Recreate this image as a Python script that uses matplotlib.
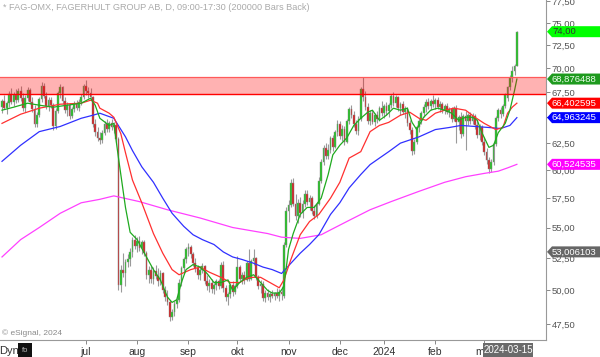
import matplotlib
matplotlib.use('Agg')
import matplotlib.pyplot as plt
from matplotlib.patches import Polygon, Rectangle
from matplotlib.ticker import FixedLocator, FuncFormatter, NullLocator
import numpy as np

plt.rcParams['font.family'] = ['Liberation Sans', 'DejaVu Sans']

# daily bars, FAG-OMX
opens = [66.0, 66.6, 65.9, 66.4, 67.3, 66.5, 67.2, 66.7, 67.6, 66.9,
         65.9, 66.9, 67.7, 66.5, 65.8, 64.3, 65.2, 66.8, 68.2, 67.1,
         66.1, 66.7, 66.2, 64.1, 65.6, 67.4, 68.0, 66.6, 65.7, 66.2,
         65.1, 65.8, 66.3, 65.9, 66.5, 67.0, 68.2, 67.6, 67.4, 67.0,
         64.3, 63.6, 63.0, 62.8, 63.5, 64.3, 63.9, 64.4, 64.0, 64.2,
         62.9, 50.4, 51.6, 51.3, 52.2, 52.4, 53.0, 54.0, 53.5, 53.9,
         53.3, 53.8, 52.9, 51.2, 51.6, 50.9, 51.5, 51.1, 50.7, 51.3,
         50.0, 49.5, 49.1, 48.0, 48.4, 49.0, 49.3, 50.6, 51.7, 52.4,
         53.2, 53.4, 52.8, 52.1, 51.7, 51.2, 51.6, 51.9, 50.7, 50.3,
         50.6, 50.1, 50.4, 50.7, 50.3, 52.0, 50.2, 49.5, 49.7, 50.4,
         49.9, 50.3, 51.8, 50.9, 51.2, 50.8, 52.1, 50.9, 52.3, 52.5,
         51.0, 50.3, 50.5, 49.4, 49.8, 49.5, 49.7, 49.6, 49.8, 49.6,
         49.9, 49.6, 53.6, 56.4, 56.9, 58.8, 57.0, 56.0, 57.1, 56.2,
         57.0, 57.9, 57.2, 57.5, 56.4, 56.0, 57.0, 59.0, 60.7, 62.0,
         61.3, 61.9, 63.0, 62.1, 63.6, 64.3, 63.2, 63.9, 62.6, 64.6,
         65.8, 65.2, 64.3, 63.7, 64.8, 67.8, 67.0, 66.0, 64.6, 65.4,
         64.5, 65.2, 64.8, 65.9, 65.4, 66.1, 65.6, 66.2, 67.1, 66.4,
         67.0, 65.9, 66.3, 65.5, 65.8, 64.4, 63.8, 61.8, 62.6, 64.0,
         64.6, 65.4, 66.0, 66.5, 66.1, 66.6, 66.3, 66.7, 66.0, 66.3,
         65.7, 66.1, 65.5, 65.8, 64.8, 65.9, 64.5, 65.0, 63.4, 65.1,
         64.6, 65.2, 64.6, 65.1, 64.2, 63.3, 64.0, 62.6, 61.7, 60.9,
         60.1, 60.7, 62.4, 64.9, 65.7, 65.3, 66.1, 66.9, 68.0, 69.0,
         69.7, 70.3]
highs = [66.8, 67.2, 66.6, 67.6, 67.9, 67.5, 67.8, 67.9, 68.2, 67.4,
         67.2, 68.0, 67.9, 67.0, 66.2, 65.5, 67.0, 68.6, 68.5, 67.5,
         67.0, 67.0, 66.4, 65.9, 67.6, 68.4, 68.2, 67.0, 66.5, 66.4,
         66.0, 66.6, 66.7, 66.8, 67.3, 68.4, 68.8, 68.1, 67.9, 67.1,
         64.8, 64.0, 63.6, 63.8, 64.6, 64.8, 64.6, 64.8, 64.5, 64.3,
         63.1, 52.0, 52.9, 52.4, 52.8, 53.3, 54.2, 54.4, 54.2, 54.3,
         54.0, 54.0, 53.1, 51.9, 51.9, 51.8, 52.0, 51.7, 51.6, 51.4,
         50.3, 50.0, 49.3, 48.6, 49.2, 49.6, 50.9, 51.9, 52.6, 53.4,
         53.7, 53.6, 53.0, 52.5, 52.0, 51.9, 52.1, 52.0, 51.2, 50.9,
         50.9, 50.6, 50.9, 50.9, 52.2, 52.3, 50.4, 49.9, 50.6, 50.7,
         50.5, 52.7, 52.0, 51.4, 51.5, 52.3, 53.2, 52.4, 53.2, 52.6,
         51.2, 50.8, 50.7, 50.0, 50.1, 49.9, 50.0, 49.9, 50.2, 50.1,
         50.3, 53.8, 56.7, 57.3, 59.2, 59.3, 57.9, 57.4, 57.6, 57.3,
         58.2, 58.2, 57.8, 57.7, 56.9, 57.2, 59.4, 61.0, 62.3, 62.5,
         62.4, 63.2, 63.3, 63.8, 64.7, 64.6, 64.2, 64.1, 64.8, 66.0,
         66.2, 65.6, 64.7, 65.1, 68.1, 69.1, 67.6, 66.4, 65.7, 65.7,
         65.4, 65.6, 66.1, 66.6, 66.3, 66.5, 66.4, 67.3, 67.5, 67.2,
         67.1, 66.5, 66.6, 66.1, 66.0, 64.7, 64.0, 62.9, 64.2, 64.9,
         65.6, 66.3, 66.8, 66.9, 66.8, 67.2, 66.9, 67.0, 66.6, 66.5,
         66.3, 66.4, 66.0, 66.0, 66.1, 66.2, 65.2, 65.5, 65.3, 65.6,
         65.4, 65.5, 65.4, 65.3, 64.7, 64.3, 64.2, 63.1, 62.0, 61.2,
         61.0, 62.6, 65.1, 65.9, 66.0, 66.3, 67.4, 68.2, 69.3, 70.2,
         70.5, 74.1]
lows = [65.4, 65.8, 65.3, 66.0, 66.3, 66.1, 66.4, 66.5, 66.6, 65.6,
        65.5, 66.6, 66.3, 65.5, 64.0, 64.0, 65.0, 66.5, 66.9, 65.8,
        65.6, 65.9, 63.8, 63.9, 65.4, 66.9, 66.3, 65.4, 65.1, 64.8,
        64.9, 65.5, 65.7, 65.6, 66.2, 66.8, 67.2, 66.9, 66.7, 64.0,
        63.2, 62.7, 62.4, 62.5, 63.3, 63.6, 63.6, 63.8, 63.5, 62.6,
        50.0, 49.9, 51.0, 50.3, 51.8, 51.9, 52.6, 53.2, 53.0, 53.1,
        52.8, 52.7, 50.9, 50.6, 50.6, 50.5, 50.9, 50.3, 50.4, 49.8,
        49.2, 48.9, 47.7, 47.8, 48.1, 48.7, 49.1, 50.3, 51.4, 52.1,
        52.7, 52.5, 51.9, 51.4, 50.9, 50.8, 51.3, 50.5, 50.0, 49.9,
        49.8, 49.7, 50.0, 50.1, 50.2, 49.9, 49.2, 48.9, 49.4, 49.6,
        49.7, 50.2, 50.7, 50.5, 50.5, 50.7, 50.7, 50.8, 52.0, 50.8,
        50.1, 49.8, 49.2, 49.1, 49.3, 49.1, 49.4, 49.3, 49.4, 49.2,
        49.3, 49.4, 53.4, 55.5, 56.7, 56.8, 55.6, 55.4, 55.9, 55.8,
        56.7, 56.9, 56.5, 56.1, 55.7, 55.8, 56.9, 58.8, 60.5, 61.0,
        61.0, 61.6, 61.8, 62.0, 63.2, 62.9, 62.7, 62.3, 62.5, 64.3,
        64.9, 64.0, 63.4, 63.3, 64.6, 66.6, 65.7, 64.3, 64.2, 64.3,
        64.1, 64.4, 64.6, 65.1, 64.9, 65.2, 65.0, 65.9, 66.1, 66.0,
        65.6, 65.2, 65.3, 64.9, 64.1, 63.4, 61.4, 61.5, 62.4, 63.6,
        64.3, 65.0, 65.5, 65.8, 65.7, 66.0, 65.8, 65.8, 65.5, 65.4,
        65.3, 65.3, 65.0, 64.5, 64.6, 62.5, 63.8, 63.0, 63.2, 61.9,
        64.2, 64.3, 64.3, 63.9, 63.0, 62.8, 62.3, 61.4, 60.6, 59.7,
        59.8, 60.5, 62.2, 64.6, 64.9, 65.1, 65.9, 66.6, 67.7, 68.6,
        69.3, 70.2]
closes = [66.6, 65.9, 66.4, 67.3, 66.5, 67.2, 66.7, 67.6, 66.9, 65.9,
          66.9, 67.7, 66.5, 65.8, 64.3, 65.2, 66.8, 68.2, 67.1, 66.1,
          66.7, 66.2, 64.1, 65.6, 67.4, 68.0, 66.6, 65.7, 66.2, 65.1,
          65.8, 66.3, 65.9, 66.5, 67.0, 68.2, 67.6, 67.4, 67.0, 64.3,
          63.6, 63.0, 62.8, 63.5, 64.3, 63.9, 64.4, 64.0, 64.2, 62.9,
          50.4, 51.6, 51.3, 52.2, 52.4, 53.0, 54.0, 53.5, 53.9, 53.3,
          53.8, 52.9, 51.2, 51.6, 50.9, 51.5, 51.1, 50.7, 51.3, 50.0,
          49.5, 49.1, 48.0, 48.4, 49.0, 49.3, 50.6, 51.7, 52.4, 53.2,
          53.4, 52.8, 52.1, 51.7, 51.2, 51.6, 51.9, 50.7, 50.3, 50.6,
          50.1, 50.4, 50.7, 50.3, 52.0, 50.2, 49.5, 49.7, 50.4, 49.9,
          50.3, 51.8, 50.9, 51.2, 50.8, 52.1, 50.9, 52.3, 52.5, 51.0,
          50.3, 50.5, 49.4, 49.8, 49.5, 49.7, 49.6, 49.8, 49.6, 49.9,
          49.7, 53.6, 56.4, 56.9, 58.8, 57.0, 56.0, 57.1, 56.2, 57.0,
          57.9, 57.2, 57.5, 56.4, 56.0, 57.0, 59.0, 60.7, 62.0, 61.3,
          61.9, 63.0, 62.1, 63.6, 64.3, 63.2, 63.9, 62.6, 64.6, 65.8,
          65.2, 64.3, 63.7, 64.8, 67.8, 67.0, 66.0, 64.6, 65.4, 64.5,
          65.2, 64.8, 65.9, 65.4, 66.1, 65.6, 66.2, 67.1, 66.4, 67.0,
          65.9, 66.3, 65.5, 65.8, 64.4, 63.8, 61.8, 62.6, 64.0, 64.6,
          65.4, 66.0, 66.5, 66.1, 66.6, 66.3, 66.7, 66.0, 66.3, 65.7,
          66.1, 65.5, 65.8, 64.8, 65.9, 64.5, 65.0, 63.4, 65.1, 64.6,
          65.2, 64.6, 65.1, 64.2, 63.3, 64.0, 62.6, 61.7, 60.9, 60.1,
          60.7, 62.4, 64.9, 65.7, 65.3, 66.1, 67.2, 68.0, 69.0, 69.7,
          70.3, 74.0]

# moving averages as drawn (bar index, value)
green_idx = [0, 5, 11, 16, 22, 28, 34, 38, 40, 42, 46, 48, 50, 53, 55, 58, 62, 65, 68, 71,
             73, 75, 77, 79, 82, 85, 88, 91, 94, 97, 99, 102, 105, 108, 111, 114, 116, 119, 121, 123,
             125, 128, 131, 134, 137, 140, 142, 145, 148, 151, 154, 157, 159, 162, 165, 168, 171, 174, 176, 178,
             181, 184, 187, 190, 193, 196, 199, 202, 204, 206, 209, 211, 213, 216, 218, 220, 221]
green_val = [65.7, 66.0, 66.4, 66.2, 66.0, 66.2, 66.4, 66.9, 66.2, 64.9, 64.2, 64.4, 61.1, 56.7, 54.6, 54.0, 52.6, 51.6, 50.8, 49.5,
             49.1, 49.3, 50.6, 51.6, 52.0, 51.8, 51.3, 50.6, 50.6, 50.8, 50.0, 50.6, 51.0, 51.2, 50.6, 50.0, 49.8, 49.8, 50.3, 53.2,
             54.5, 56.1, 56.7, 56.7, 57.5, 59.6, 61.4, 62.3, 63.0, 64.2, 64.9, 65.5, 65.7, 64.7, 65.2, 65.9, 65.7, 65.9, 64.5, 63.8,
             65.0, 65.7, 65.9, 65.7, 65.4, 64.7, 65.0, 65.0, 64.7, 63.5, 62.1, 62.3, 63.5, 64.4, 65.7, 67.7, 68.876488]
red_idx = [0, 8, 16, 25, 34, 38, 41, 42, 46, 48, 51, 53, 56, 60, 65, 69, 73, 76, 81, 85,
           89, 94, 98, 102, 106, 111, 115, 119, 121, 124, 128, 132, 136, 141, 145, 149, 154, 158, 162, 166,
           171, 175, 179, 182, 186, 190, 194, 199, 203, 207, 212, 215, 217, 219, 221]
red_val = [64.4, 65.3, 65.9, 66.3, 66.4, 66.7, 66.4, 65.9, 65.4, 65.0, 63.4, 61.6, 59.1, 57.1, 54.5, 52.9, 51.6, 51.2, 51.6, 51.8,
           51.4, 51.0, 50.6, 50.6, 51.0, 51.0, 50.6, 50.2, 50.8, 52.4, 54.4, 55.5, 56.1, 57.5, 58.9, 61.1, 61.7, 63.6, 64.2, 64.5,
           65.2, 65.5, 64.9, 64.7, 65.4, 65.7, 65.9, 65.7, 65.0, 64.4, 63.8, 64.0, 65.4, 66.0, 66.402595]
blue_idx = [0, 8, 16, 25, 34, 39, 42, 48, 53, 56, 60, 65, 69, 73, 78, 82, 86, 91, 95, 99,
            103, 108, 112, 116, 120, 124, 128, 132, 136, 141, 145, 149, 154, 158, 162, 166, 171, 175, 179, 186,
            192, 197, 203, 209, 214, 218, 221]
blue_val = [60.8, 62.3, 63.6, 64.1, 64.9, 65.2, 65.4, 64.9, 63.1, 61.8, 60.3, 58.9, 57.5, 56.2, 55.1, 54.4, 54.0, 53.6, 53.0, 52.6,
            52.4, 52.1, 51.8, 51.6, 51.3, 52.1, 52.9, 53.6, 54.4, 56.1, 57.1, 58.4, 59.6, 60.5, 61.1, 61.7, 62.5, 62.8, 63.1, 63.8,
            64.0, 64.2, 64.1, 64.0, 63.9, 64.2, 64.963245]
mag_idx = [0, 8, 16, 25, 34, 42, 48, 59, 71, 85, 99, 114, 120, 128, 137, 141, 149, 158, 167, 179,
           190, 199, 207, 213, 217, 221]
mag_val = [52.6, 54.0, 55.0, 56.2, 57.1, 57.4, 57.7, 57.2, 56.5, 55.8, 55.0, 54.5, 54.2, 54.1, 54.4, 54.8, 55.6, 56.5, 57.2, 58.1,
           58.9, 59.4, 59.7, 59.9, 60.2, 60.524535]
other_value = 53.006103

# resistance zone
zone_low = 67.35
zone_high = 69.05

month_labels = ['jul', 'aug', 'sep', 'okt', 'nov', 'dec', '2024', 'feb', 'mar']
month_idx = [36, 58, 80, 101, 123, 145, 164, 186, 207]
last_date = '2024-03-15'
y_ticks = [47.5, 50.0, 52.5, 55.0, 57.5, 60.0, 62.5, 65.0, 67.5, 70.0, 72.5, 75.0, 77.5]
hidden_ticks = [65.0]  # fully covered by the blue tag in the original


def comma(v, nd):
    return f"{v:.{nd}f}".replace('.', ',')


W, H = 600, 357
fig = plt.figure(figsize=(W / 100, H / 100), dpi=100)
fig.patch.set_facecolor('white')
ax = fig.add_axes([0, 17 / H, 546 / W, 340 / H])

n = len(closes)
x = np.arange(n)
o = np.array(opens)
c = np.array(closes)
hi = np.array(highs)
lo = np.array(lows)

# candles
ax.vlines(x, lo, hi, color='#9a9a9a', linewidth=0.8, zorder=2)
up = c >= o
body_col = np.where(up, '#22c322', '#d42020')
body_h = np.where(np.abs(c - o) < 0.08, 0.08, c - o)
ax.bar(x, body_h, bottom=o, width=0.75, color=body_col,
       edgecolor='#8a8a8a', linewidth=0.3, zorder=3)

# moving averages
ax.plot(mag_idx, mag_val, color='#ff40ff', linewidth=0.9, zorder=4)
ax.plot(blue_idx, blue_val, color='#3030ff', linewidth=0.9, zorder=4)
ax.plot(red_idx, red_val, color='#ff3030', linewidth=0.9, zorder=4)
ax.plot(green_idx, green_val, color='#1faa1f', linewidth=0.9, zorder=4)

# zone
ax.axhspan(zone_low, zone_high, facecolor='#ff0000', alpha=0.3, linewidth=0, zorder=5)
ax.axhline(zone_high, color='#ff5a5a', linewidth=0.9, zorder=5)
ax.axhline(zone_low, color='#ff0000', linewidth=1.0, zorder=5)

ax.set_yscale('log')
ax.set_ylim(46.38, 77.64)
ax.set_xlim(-0.86, 233.5)

ax.yaxis.set_major_locator(FixedLocator(y_ticks))
ax.yaxis.set_major_formatter(FuncFormatter(
    lambda v, p: '' if any(abs(v - h) < 1e-6 for h in hidden_ticks) else comma(v, 2)))
ax.yaxis.set_minor_locator(NullLocator())
ax.yaxis.tick_right()
ax.tick_params(axis='y', direction='out', length=3, width=0.7, color='#888888',
               labelsize=6.8, labelcolor='#555555', pad=1)
ax.set_xticks(month_idx)
ax.set_xticklabels(month_labels)
ax.tick_params(axis='x', direction='out', length=3, width=0.7, color='#888888',
               labelsize=7.5, labelcolor='#333333', pad=2)

for side in ['left', 'top']:
    ax.spines[side].set_visible(False)
for side in ['right', 'bottom']:
    ax.spines[side].set_color('#999999')
    ax.spines[side].set_linewidth(0.8)

fig.text(3 / W, 1 - 7 / H, '* FAG-OMX, FAGERHULT GROUP AB, D, 09:00-17:30 (200000 Bars Back)',
         ha='left', va='center', fontsize=6.6, color='#aaaaaa')
fig.text(2 / W, 1 - 333 / H, '\u00a9 eSignal, 2024', ha='left', va='center',
         fontsize=6, color='#8a8a8a')

# right-hand value tags
fig.canvas.draw()
inv = fig.transFigure.inverted()
x0 = 547 / W
tip = 5 / W
hh = 5.5 / H
tags = [
    (closes[-1], comma(closes[-1], 2), '#00ff00', '#333333'),
    (green_val[-1], comma(green_val[-1], 6), '#1e9a1e', '#eeffee'),
    (red_val[-1], comma(red_val[-1], 6), '#ff0000', '#ffffff'),
    (blue_val[-1], comma(blue_val[-1], 6), '#0000ff', '#ffffff'),
    (mag_val[-1], comma(mag_val[-1], 6), '#ff00ff', '#ffffff'),
    (other_value, comma(other_value, 6), '#666666', '#ffffff'),
]
for val, txt, bg, fg in tags:
    yf = inv.transform(ax.transData.transform((0, val)))[1]
    poly = Polygon([(x0, yf), (x0 + tip, yf + hh), (1.0, yf + hh), (1.0, yf - hh),
                    (x0 + tip, yf - hh)], closed=True, facecolor=bg, edgecolor='none',
                   transform=fig.transFigure, zorder=10)
    fig.add_artist(poly)
    fig.text(x0 + tip, yf, txt, ha='left', va='center', fontsize=6.8, color=fg, zorder=11)

# bottom bar: "Dyn" label, icon, cursor date
fig.text(-1 / W, 6 / H, 'Dyn', ha='left', va='center', fontsize=8, color='#333333')
fig.add_artist(Rectangle((18 / W, 0), 14 / W, 14 / H, transform=fig.transFigure,
                         facecolor='#111111', edgecolor='none', zorder=10))
fig.text(25 / W, 7 / H, 'fo', ha='center', va='center', fontsize=5.5, color='#bbbbbb', zorder=11)
fig.add_artist(Rectangle((483 / W, 0), 50 / W, 14 / H, transform=fig.transFigure,
                         facecolor='#6a6a6a', edgecolor='none', zorder=10))
fig.text(508 / W, 7 / H, last_date, ha='center', va='center', fontsize=7, color='#ffffff', zorder=11)

fig.savefig('out.png', dpi=100)
plt.close(fig)
